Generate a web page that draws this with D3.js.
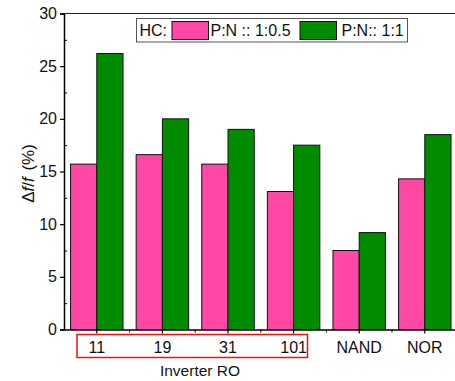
<!DOCTYPE html>
<html>
<head>
<meta charset="utf-8">
<script src="https://cdn.jsdelivr.net/npm/d3@7"></script>
<style>
  body { margin: 0; background: #fff; }
  svg { font-family: "Liberation Sans", Arial, sans-serif; }
</style>
</head>
<body>
<svg id="chart" width="455" height="381"></svg>
<script>
// datos
const categories = ['11', '19', '31', '101', 'NAND', 'NOR']
const series = ['P:N :: 1:0.5', 'P:N:: 1:1']
const ratioHalf = [15.7, 16.6, 15.7, 13.1, 7.5, 14.3]
const ratioOne = [26.2, 20.0, 19.0, 17.5, 9.2, 18.5]
const yTicks = [0, 5, 10, 15, 20, 25, 30]
const yMinor = [2.5, 7.5, 12.5, 17.5, 22.5, 27.5]
const colors = ['#ff47a6', '#008b00']

const svg = d3.select('#chart')
const pLeft = 64, pTop = 13.5, pBottom = 329.5, pRight = 457.6

const x = d3.scaleBand().domain(categories).range([pLeft, pRight])
  .paddingInner(0.2).paddingOuter(0.1)
const xs = d3.scaleBand().domain(series).range([0, x.bandwidth()])
const y = d3.scaleLinear().domain([0, 30]).range([pBottom, pTop])

const rows = categories.map((c, i) => ({ cat: c, vals: [ratioHalf[i], ratioOne[i]] }))

// barras
svg.append('g')
  .selectAll('g.grp')
  .data(rows)
  .enter()
  .append('g')
  .attr('transform', d => `translate(${x(d.cat)},0)`)
  .selectAll('rect')
  .data(d => d.vals.map((v, j) => ({ s: series[j], v: v, j: j })))
  .enter()
  .append('rect')
  .attr('x', d => xs(d.s))
  .attr('y', d => y(d.v))
  .attr('width', xs.bandwidth())
  .attr('height', d => y(0) - y(d.v))
  .attr('fill', d => colors[d.j])
  .attr('stroke', '#111')
  .attr('stroke-width', 1)

// eje y
const yAxis = svg.append('g')
  .attr('transform', `translate(${pLeft},0)`)
  .call(d3.axisLeft(y).tickValues(yTicks).tickSize(4).tickPadding(3))
yAxis.select('.domain').attr('stroke-width', 1.5)
yAxis.selectAll('line').attr('stroke-width', 1.2)
yAxis.selectAll('text').style('font-size', '16px').attr('fill', '#111')

svg.append('g')
  .attr('transform', `translate(${pLeft},0)`)
  .call(d3.axisLeft(y).tickValues(yMinor).tickSize(-3).tickFormat(''))
  .call(g => g.select('.domain').remove())

// eje x
const xAxis = svg.append('g')
  .attr('transform', `translate(0,${pBottom})`)
  .call(d3.axisBottom(x).tickSize(4).tickPadding(8).tickSizeOuter(0))
xAxis.select('.domain').attr('stroke-width', 1.5)
xAxis.selectAll('line').attr('stroke-width', 1.2)
xAxis.selectAll('text').style('font-size', '16px').attr('fill', '#111')

const bounds = categories.slice(0, -1).map(c => x(c) + x.bandwidth() / 2 + x.step() / 2)
svg.append('g')
  .selectAll('line')
  .data(bounds)
  .enter()
  .append('line')
  .attr('x1', d => d).attr('x2', d => d)
  .attr('y1', pBottom).attr('y2', pBottom + 3)
  .attr('stroke', '#000')

// borde superior
svg.append('line')
  .attr('x1', pLeft).attr('x2', 455)
  .attr('y1', pTop).attr('y2', pTop)
  .attr('stroke', '#222').attr('stroke-width', 1.2)

// caja roja alrededor de Inverter RO
svg.append('rect')
  .attr('x', 77).attr('y', 334.5)
  .attr('width', 230.5).attr('height', 23)
  .attr('fill', 'none')
  .attr('stroke', '#ee1111')
  .attr('stroke-width', 1.5)

svg.append('text')
  .attr('x', 200).attr('y', 376)
  .attr('text-anchor', 'middle')
  .style('font-size', '15.5px')
  .attr('fill', '#111')
  .text('Inverter RO')

// titulo eje y
const yl = svg.append('text')
  .attr('transform', `translate(34,${(pTop + pBottom) / 2 + 2}) rotate(-90)`)
  .attr('text-anchor', 'middle')
  .style('font-size', '17px')
  .attr('fill', '#111')
yl.append('tspan').text('Δ')
yl.append('tspan').style('font-style', 'italic').text('f')
yl.append('tspan').text('/')
yl.append('tspan').style('font-style', 'italic').text('f')
yl.append('tspan').attr('dx', 2).text(' (%)')

// leyenda
const leg = svg.append('g')
leg.append('rect')
  .attr('x', 136.5).attr('y', 18.5)
  .attr('width', 271).attr('height', 23.5)
  .attr('fill', '#fff')
  .attr('stroke', '#555')
  .attr('stroke-width', 1)
leg.append('text')
  .attr('x', 139.5).attr('y', 36)
  .style('font-size', '16px').attr('fill', '#111')
  .text('HC:')
const legItems = [
  { sw: 172, tx: 210.5 },
  { sw: 300, tx: 341.5 }
]
legItems.forEach((d, i) => {
  leg.append('rect')
    .attr('x', d.sw).attr('y', 21.5)
    .attr('width', 36.5).attr('height', 18)
    .attr('fill', colors[i])
    .attr('stroke', '#111')
  leg.append('text')
    .attr('x', d.tx).attr('y', 36)
    .style('font-size', '16px').attr('fill', '#111')
    .text(series[i])
})
</script>
</body>
</html>
